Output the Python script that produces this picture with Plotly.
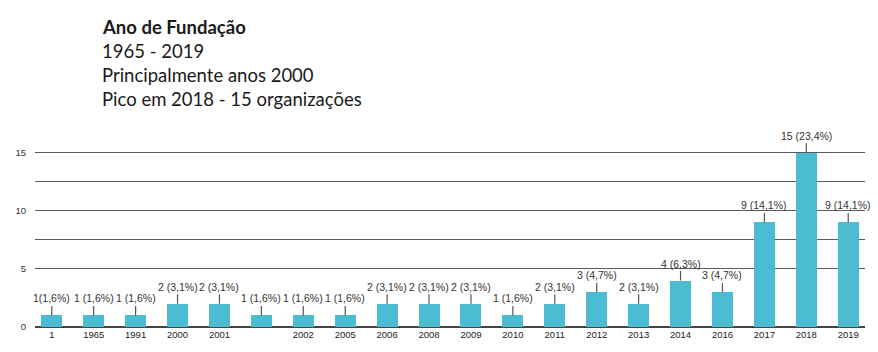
import plotly.graph_objects as go
import math

# ---- data ----
categories = ["1", "1965", "1991", "2000", "2001", " ", "2002", "2005", "2006", "2008",
              "2009", "2010", "2011", "2012", "2013", "2014", "2016", "2017", "2018", "2019"]
counts = [1, 1, 1, 2, 2, 1, 1, 1, 2, 2, 2, 1, 2, 3, 2, 4, 3, 9, 15, 9]
y_tick_vals = [0, 5, 7.5, 10, 12.5, 15]
y_tick_text = ["0", "5", "", "10", "", "15"]
title_lines = ["<b>Ano de Fundação</b>", "1965 - 2019", "Principalmente anos 2000",
               "Pico em 2018 - 15 organizações"]

total = sum(counts)


def pct(v):
    p = math.floor(v / total * 1000 + 0.5) / 10
    return f"{p:.1f}".replace(".", ",")


labels = [f"{v} ({pct(v)}%)" for v in counts]
labels[0] = labels[0].replace(" ", "", 1)

W, H = 878, 352
ML, MR, MT, MB = 35, 13, 147, 18
plot_h = H - MT - MB

xs = list(range(len(categories)))

fig = go.Figure()
fig.add_trace(go.Bar(
    x=xs, y=counts, width=0.5,
    marker=dict(color="#4cbcd2", line=dict(width=0)),
    hoverinfo="skip",
))

annotations = []
for i, (v, t) in enumerate(zip(counts, labels)):
    annotations.append(dict(
        x=i, y=v, xref="x", yref="y", text=t,
        showarrow=True, arrowhead=0, arrowwidth=1.2, arrowcolor="#555555",
        ax=0, ay=-17, standoff=0,
        font=dict(family="Liberation Sans, Arial, sans-serif", size=10.5, color="#333333"),
    ))

title_px = [22, 47, 72, 97]
for line, py in zip(title_lines, title_px):
    annotations.append(dict(
        x=(100 - ML) / (W - ML - MR), y=(H - MB - py) / plot_h,
        xref="paper", yref="paper", xanchor="left", yanchor="middle",
        text=line, showarrow=False,
        font=dict(family="Lato, sans-serif", size=18.5, color="#1a1a1a"),
    ))

fig.update_layout(
    width=W, height=H,
    margin=dict(l=ML, r=MR, t=MT, b=MB, pad=0),
    paper_bgcolor="white", plot_bgcolor="white",
    showlegend=False,
    annotations=annotations,
    bargap=0,
    xaxis=dict(
        range=[-0.4, 19.4], tickmode="array", tickvals=xs, ticktext=categories,
        showgrid=False, zeroline=False, showline=False, ticks="",
        tickfont=dict(family="Liberation Sans, Arial, sans-serif", size=9.5, color="#222222"),
        fixedrange=True,
    ),
    yaxis=dict(
        range=[0, 15.5], tickmode="array", tickvals=y_tick_vals, ticktext=y_tick_text,
        showgrid=True, gridcolor="#5a5a5a", gridwidth=1.3,
        zeroline=True, zerolinecolor="#444444", zerolinewidth=2.2,
        showline=False, ticks="", ticklabelstandoff=8,
        tickfont=dict(family="Liberation Sans, Arial, sans-serif", size=9.5, color="#333333"),
        fixedrange=True,
    ),
)

fig.write_html("out.html")
